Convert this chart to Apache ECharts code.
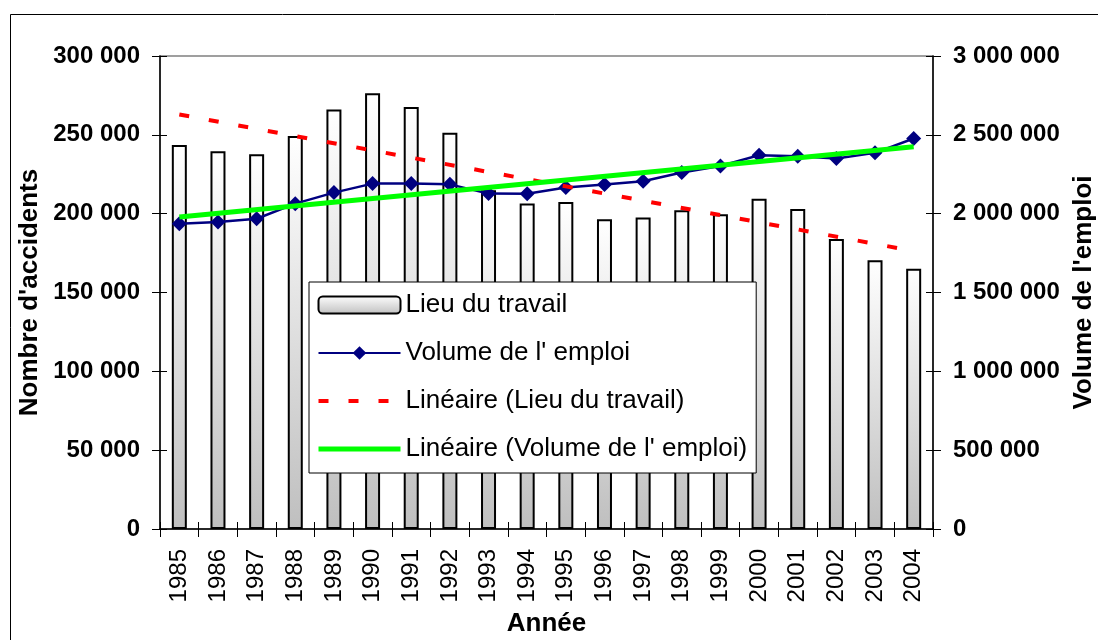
<!DOCTYPE html>
<html>
<head>
<meta charset="utf-8">
<script src="https://cdn.jsdelivr.net/npm/echarts@6/dist/echarts.min.js"></script>
<style>
  html, body { margin: 0; padding: 0; background: #fff; }
  #chart { width: 1098px; height: 640px; }
</style>
</head>
<body>
<div id="chart"></div>
<script>
// années
var years = ['1985', '1986', '1987', '1988', '1989', '1990', '1991', '1992', '1993', '1994',
             '1995', '1996', '1997', '1998', '1999', '2000', '2001', '2002', '2003', '2004']
// accidents sur le lieu du travail
var lieuTravail = [243500, 239600, 237700, 249300, 266100, 276300, 267600, 251300, 214800, 206400,
                   207400, 196400, 197500, 202100, 199600, 209500, 202900, 183900, 170500, 165100]
// volume de l'emploi
var volumeEmploi = [1936600, 1946800, 1968000, 2063600, 2133500, 2190700, 2190700, 2186000, 2127300, 2127000,
                    2165300, 2184300, 2205500, 2260600, 2302900, 2370800, 2364400, 2349500, 2385600, 2476700]
// droites de tendance (valeurs lues en 1985 et en 2004)
var tendanceTravail = [262900, 176300]
var tendanceEmploi = [1978800, 2423700]

var FONT = 'Liberation Sans, Arial, sans-serif'

function espaces (v) {
  return String(v).replace(/\B(?=(\d{3})+(?!\d))/g, ' ')
}
function extremites (pair) {
  return years.map(function (y, i) {
    if (i === 0) return pair[0]
    if (i === years.length - 1) return pair[1]
    return null
  })
}

var myChart = echarts.init(document.getElementById('chart'))
var option = {
  backgroundColor: '#fff',
  animation: false,
  textStyle: { fontFamily: FONT },
  graphic: [{
    type: 'rect',
    shape: { x: 10.5, y: 14.5, width: 1200, height: 700 },
    style: { fill: null, stroke: '#000', lineWidth: 1 },
    silent: true,
    z: -10
  }],
  grid: {
    left: 160, right: 165, top: 56, bottom: 111,
    outerBoundsMode: 'none',
    containLabel: false,
    show: true, borderColor: '#808080', borderWidth: 1.5
  },
  legend: {
    orient: 'vertical',
    left: 309,
    top: 282,
    padding: [10, 9, 11, 7],
    itemGap: 22,
    itemWidth: 82,
    itemHeight: 17,
    backgroundColor: '#fff',
    borderColor: '#000',
    borderWidth: 1,
    textStyle: { fontFamily: FONT, fontSize: 26, color: '#000', lineHeight: 26 },
    data: [
      { name: 'Lieu du travail' },
      { name: "Volume de l' emploi", lineStyle: { width: 2 } },
      { name: 'Linéaire (Lieu du travail)', itemStyle: { opacity: 0 }, lineStyle: { width: 4, type: [10, 20] } },
      { name: "Linéaire (Volume de l' emploi)", itemStyle: { opacity: 0 }, lineStyle: { width: 5 } }
    ]
  },
  xAxis: [{
    type: 'category',
    data: years,
    name: 'Année',
    nameLocation: 'middle',
    nameGap: 82,
    nameTextStyle: { fontFamily: FONT, fontSize: 26, fontWeight: 'bold', color: '#000' },
    axisLine: { lineStyle: { color: '#000', width: 1.5 } },
    axisTick: { show: true, length: 8, lineStyle: { color: '#000' } },
    axisLabel: { rotate: 90, margin: 20, fontFamily: FONT, fontSize: 24, color: '#000' },
    splitLine: { show: false }
  }, {
    type: 'category',
    data: years,
    position: 'bottom',
    axisLine: { show: false },
    axisTick: { show: true, inside: true, length: 7, lineStyle: { color: '#000' } },
    axisLabel: { show: false },
    splitLine: { show: false }
  }],
  yAxis: [{
    type: 'value',
    position: 'left',
    min: 0, max: 300000, interval: 50000,
    name: "Nombre d'accidents",
    nameLocation: 'middle',
    nameRotate: 90,
    nameGap: 112,
    nameTextStyle: { fontFamily: FONT, fontSize: 26, fontWeight: 'bold', color: '#000' },
    axisLine: { show: true, lineStyle: { color: '#000', width: 1.5 } },
    axisTick: { show: true, length: 8, lineStyle: { color: '#000' } },
    axisLabel: { margin: 20, fontFamily: FONT, fontSize: 24, fontWeight: 'bold', color: '#000', formatter: espaces },
    splitLine: { show: false }
  }, {
    type: 'value',
    position: 'right',
    min: 0, max: 3000000, interval: 500000,
    name: "Volume de l'emploi",
    nameLocation: 'middle',
    nameRotate: 90,
    nameGap: 136,
    nameTextStyle: { fontFamily: FONT, fontSize: 26, fontWeight: 'bold', color: '#000' },
    axisLine: { show: true, lineStyle: { color: '#000', width: 1.5 } },
    axisTick: { show: true, length: 8, lineStyle: { color: '#000' } },
    axisLabel: { margin: 20, fontFamily: FONT, fontSize: 24, fontWeight: 'bold', color: '#000', formatter: espaces },
    splitLine: { show: false }
  }, {
    type: 'value',
    position: 'left',
    min: 0, max: 300000, interval: 50000,
    axisLine: { show: false },
    axisTick: { show: true, inside: true, length: 7, lineStyle: { color: '#000' } },
    axisLabel: { show: false },
    splitLine: { show: false }
  }, {
    type: 'value',
    position: 'right',
    min: 0, max: 3000000, interval: 500000,
    axisLine: { show: false },
    axisTick: { show: true, inside: true, length: 7, lineStyle: { color: '#000' } },
    axisLabel: { show: false },
    splitLine: { show: false }
  }],
  series: [
    {
      name: 'Lieu du travail',
      type: 'bar',
      data: lieuTravail,
      barWidth: 15,
      z: 2,
      itemStyle: {
        color: new echarts.graphic.LinearGradient(0, 0, 0, 1, [
          { offset: 0, color: '#ffffff' },
          { offset: 1, color: '#bfbfbf' }
        ]),
        borderColor: '#000',
        borderWidth: 2
      }
    },
    {
      name: "Volume de l' emploi",
      type: 'line',
      yAxisIndex: 1,
      data: volumeEmploi,
      symbol: 'diamond',
      symbolSize: 15,
      z: 3,
      lineStyle: { color: '#000080', width: 2.5 },
      itemStyle: { color: '#000080' }
    },
    {
      name: 'Linéaire (Lieu du travail)',
      type: 'line',
      data: extremites(tendanceTravail),
      connectNulls: true,
      symbol: 'none',
      z: 4,
      lineStyle: { color: '#ff0000', width: 4, type: [10, 20] },
      itemStyle: { color: '#ff0000' }
    },
    {
      name: "Linéaire (Volume de l' emploi)",
      type: 'line',
      yAxisIndex: 1,
      data: extremites(tendanceEmploi),
      connectNulls: true,
      symbol: 'none',
      z: 5,
      lineStyle: { color: '#00ff00', width: 5 },
      itemStyle: { color: '#00ff00' }
    }
  ]
}
myChart.setOption(option)
</script>
</body>
</html>
